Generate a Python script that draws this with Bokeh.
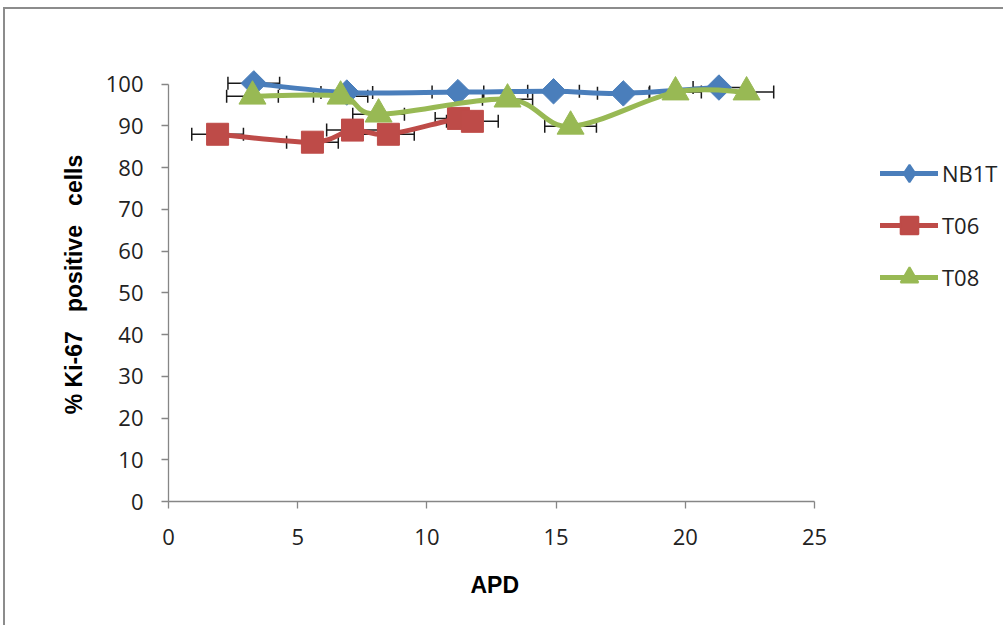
from bokeh.plotting import figure
from bokeh.models import (Range1d, Whisker, TeeHead, ColumnDataSource, Legend,
                          LegendItem, FixedTicker, Title)
from bokeh.embed import file_html
from bokeh.resources import INLINE

# ---------------- data ----------------
series_names = ["NB1T", "T06", "T08"]
series_colors = ["#4A7EBB", "#BE4B48", "#98B954"]

nb1t_apd = [3.3, 6.9, 11.2, 14.9, 17.6, 21.3]
nb1t_ki67 = [100.2, 98.0, 98.1, 98.3, 97.8, 99.2]
nb1t_err = [1.0, 1.0, 1.0, 1.0, 1.0, 1.0]

t06_apd = [1.9, 5.57, 7.12, 8.51, 11.22, 11.76]
t06_ki67 = [88.0, 86.1, 89.0, 88.0, 91.8, 91.1]
t06_err = [1.0, 1.0, 1.0, 1.0, 0.9, 1.0]

t08_apd = [3.25, 6.66, 8.13, 13.12, 15.56, 19.62, 22.37]
t08_ki67 = [97.1, 97.1, 92.8, 96.4, 89.9, 98.1, 98.1]
t08_err = [1.0, 1.05, 1.0, 0.97, 1.0, 1.0, 1.05]

x_ticks = [0, 5, 10, 15, 20, 25]
y_ticks = [0, 10, 20, 30, 40, 50, 60, 70, 80, 90, 100]

x_title = "APD"
y_title = "% Ki-67 \u00a0 positive \u00a0 cells"

# ---------------- figure ----------------
# The frame reaches the right edge so the legend (drawn inside the frame) is not clipped;
# the x axis itself is bounded to 0..25.
p = figure(width=1000, height=618, output_backend="svg", toolbar_location=None,
           x_range=Range1d(0, 32.39), y_range=Range1d(0, 104),
           min_border_left=163, min_border_right=0,
           min_border_top=58, min_border_bottom=126)
p.styles = {"border-left": "2px solid #8c8c8c", "border-top": "2px solid #8c8c8c",
            "margin-left": "3px", "margin-top": "7px"}
p.background_fill_color = "white"
p.border_fill_color = "white"
p.outline_line_color = None
p.grid.visible = False

for ax in (p.xaxis[0], p.yaxis[0]):
    ax.axis_line_color = "#868686"
    ax.axis_line_width = 1.3
    ax.major_tick_line_color = "#868686"
    ax.major_tick_line_width = 1.3
    ax.major_tick_in = 0
    ax.major_tick_out = 7
    ax.minor_tick_line_color = None
    ax.major_label_text_font = "Open Sans"
    ax.major_label_text_font_size = "22px"
    ax.major_label_text_color = "#222222"
    ax.axis_label_text_font = "Liberation Sans"
    ax.axis_label_text_font_style = "bold"
    ax.axis_label_text_font_size = "23px"
    ax.axis_label_text_color = "#000000"

p.xaxis.ticker = FixedTicker(ticks=x_ticks)
p.yaxis.ticker = FixedTicker(ticks=y_ticks)
p.xaxis.bounds = (0, 25)
p.yaxis.bounds = (0, 100)
p.yaxis.axis_label = y_title
p.xaxis.major_label_standoff = 20
p.yaxis.major_label_standoff = 18
p.yaxis.axis_label_standoff = 16

# x axis title, centred under the 0..25 axis
p.add_layout(Title(text=x_title, align="left", offset=302, standoff=44,
                   text_font="Liberation Sans", text_font_style="bold",
                   text_font_size="23px", text_color="#000000"), "below")


def bezier_parts(xs, ys):
    """Catmull-Rom style smoothing (like Excel's smoothed line) as cubic Beziers."""
    n = len(xs)
    out = dict(x0=[], y0=[], x1=[], y1=[], cx0=[], cy0=[], cx1=[], cy1=[])
    for i in range(n - 1):
        xm, ym = (xs[i - 1], ys[i - 1]) if i > 0 else (xs[i], ys[i])
        xp, yp = (xs[i + 2], ys[i + 2]) if i + 2 < n else (xs[i + 1], ys[i + 1])
        out["x0"].append(xs[i]); out["y0"].append(ys[i])
        out["x1"].append(xs[i + 1]); out["y1"].append(ys[i + 1])
        out["cx0"].append(xs[i] + (xs[i + 1] - xm) / 6.0)
        out["cy0"].append(ys[i] + (ys[i + 1] - ym) / 6.0)
        out["cx1"].append(xs[i + 1] - (xp - xs[i]) / 6.0)
        out["cy1"].append(ys[i + 1] - (yp - ys[i]) / 6.0)
    return out


all_series = [
    (nb1t_apd, nb1t_ki67, nb1t_err),
    (t06_apd, t06_ki67, t06_err),
    (t08_apd, t08_ki67, t08_err),
]

# error bars first (behind the lines and markers)
for xs, ys, errs in all_series:
    src = ColumnDataSource(dict(base=ys,
                                lower=[x - e for x, e in zip(xs, errs)],
                                upper=[x + e for x, e in zip(xs, errs)]))
    w = Whisker(source=src, base="base", lower="lower", upper="upper",
                dimension="width", line_color="#1a1a1a", line_width=1.5,
                upper_head=TeeHead(size=13, line_color="#1a1a1a", line_width=1.5),
                lower_head=TeeHead(size=13, line_color="#1a1a1a", line_width=1.5))
    p.add_layout(w)

items = []
marker_specs = [
    dict(marker="square", size=18, angle=0.7853981634, legend_marker="diamond"),
    dict(marker="square", size=22, angle=0.0, legend_marker="square"),
    dict(marker="triangle", size=27, angle=0.0, legend_marker="triangle"),
]
nan = float("nan")
for (xs, ys, errs), name, col, ms in zip(all_series, series_names, series_colors, marker_specs):
    bz = bezier_parts(xs, ys)
    p.bezier(source=ColumnDataSource(bz), x0="x0", y0="y0", x1="x1", y1="y1",
             cx0="cx0", cy0="cy0", cx1="cx1", cy1="cy1",
             line_color=col, line_width=5, line_cap="round")
    p.scatter(xs, ys, marker=ms["marker"], size=ms["size"], angle=ms["angle"],
              fill_color=col, line_color=col)
    # renderers with no drawable point, used only for the legend sample
    lg_line = p.line([nan], [nan], line_color=col, line_width=5, line_cap="round")
    lg_mark = p.scatter([nan], [nan], marker=ms["legend_marker"], size=ms["size"],
                        fill_color=col, line_color=col, line_width=2)
    items.append(LegendItem(label=name, renderers=[lg_line, lg_mark]))

legend = Legend(items=items, location=(712, 202), orientation="vertical",
                glyph_width=58, glyph_height=44, spacing=8, padding=0, margin=0,
                label_standoff=4, label_text_font="Open Sans",
                label_text_font_size="22px", label_text_color="#222222",
                label_text_baseline="middle",
                border_line_color=None, background_fill_alpha=0)
p.add_layout(legend, "center")

open("out.html", "w").write(file_html(p, INLINE))
